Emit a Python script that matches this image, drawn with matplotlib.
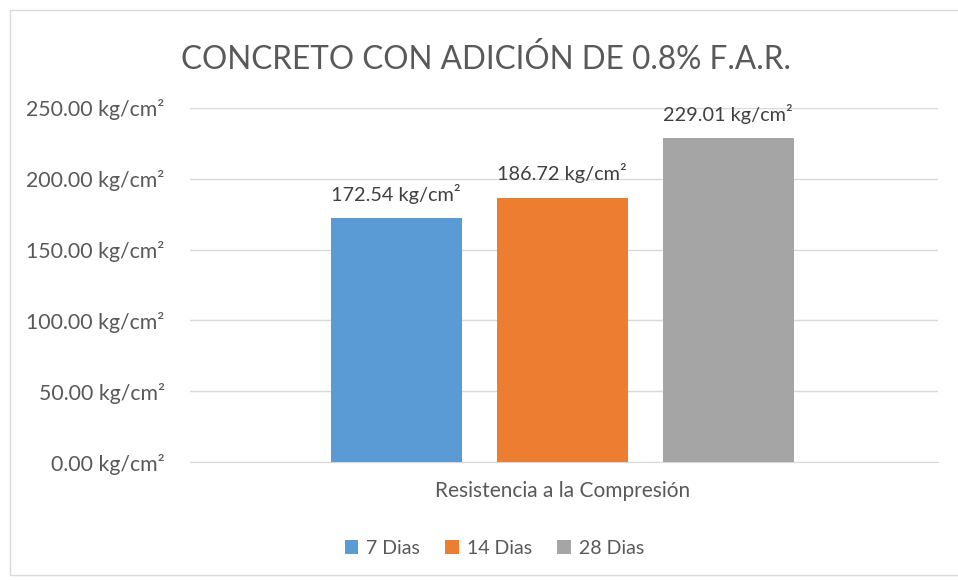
import numpy as np
import matplotlib.pyplot as plt

plt.rcParams['font.family'] = ['Lato', 'DejaVu Sans']

# Datos de resistencia
series = ['7 Dias', '14 Dias', '28 Dias']
values = [172.54, 186.72, 229.01]
category = 'Resistencia a la Compresión'
colors = ['#5B9BD5', '#ED7D31', '#A5A5A5']
yticks = [0, 50, 100, 150, 200, 250]

fig = plt.figure(figsize=(9.58, 5.8), dpi=100)
ax = fig.add_axes([0.198, 0.2034, 0.781, 0.6104])

# borde del grafico
fig.patches.append(plt.Rectangle((10 / 958, 5 / 580), 1.0, 1 - 15 / 580, transform=fig.transFigure,
                                 fill=False, edgecolor='#D9D9D9', linewidth=1))

x = np.arange(len(series))
bars = ax.bar(x, values, width=0.789, color=colors, label=series, zorder=3)
for xi, v in zip(x, values):
    ax.text(xi, v + 10, f"{v:.2f} kg/cm²", ha='center', va='bottom', fontsize=14.3, color='#404040')

ax.set_xlim(-1.244, 3.262)
ax.set_ylim(0, 250)
ax.set_yticks(yticks)
ax.set_yticklabels([f"{t:.2f} kg/cm²" for t in yticks], fontsize=15.3, color='#595959')
ax.set_xticks([1])
ax.set_xticklabels([category], fontsize=15, color='#595959')
ax.tick_params(axis='y', length=0, pad=18)
ax.tick_params(axis='x', length=0, pad=14)
ax.grid(axis='y', color='#D9D9D9', linewidth=1, zorder=0)
for s in ['top', 'right', 'left']:
    ax.spines[s].set_visible(False)
ax.spines['bottom'].set_color('#D9D9D9')

fig.text(0.507, 0.897, 'CONCRETO CON ADICIÓN DE 0.8% F.A.R.', ha='center', va='center',
         fontsize=22.7, color='#595959')

fig.legend(handles=bars, labels=series, loc='center', bbox_to_anchor=(0.516, 0.055), ncol=3,
           frameon=False, fontsize=14, handlelength=0.7, handleheight=0.7, handletextpad=0.4,
           columnspacing=1.3, labelcolor='#595959')

fig.savefig('out.png', dpi=100)
